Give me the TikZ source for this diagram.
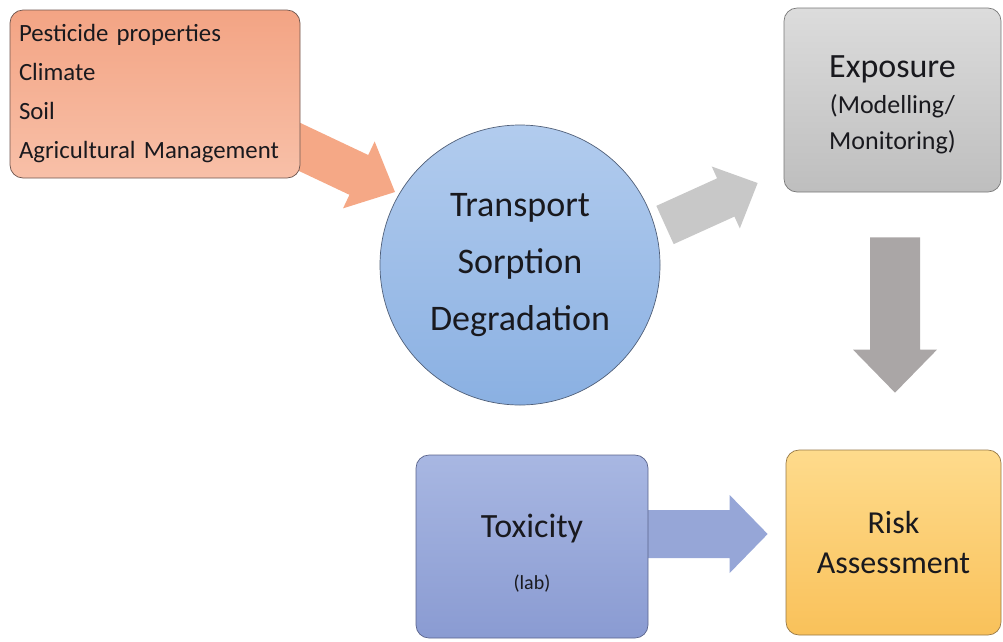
\documentclass[tikz,border=0pt]{standalone}
\usepackage{fontspec}
\setmainfont{Carlito}
\usetikzlibrary{calc,backgrounds}

\definecolor{txt}{RGB}{25,25,30}
\definecolor{factop}{RGB}{243,164,132}
\definecolor{facbot}{RGB}{248,192,168}
\definecolor{facline}{RGB}{110,85,78}
\definecolor{proctop}{RGB}{178,204,238}
\definecolor{procbot}{RGB}{138,176,226}
\definecolor{procline}{RGB}{80,95,120}
\definecolor{expotop}{RGB}{220,220,220}
\definecolor{expobot}{RGB}{190,190,190}
\definecolor{expoline}{RGB}{120,120,120}
\definecolor{toxtop}{RGB}{168,183,226}
\definecolor{toxbot}{RGB}{138,155,210}
\definecolor{toxline}{RGB}{90,100,140}
\definecolor{risktop}{RGB}{254,219,140}
\definecolor{riskbot}{RGB}{249,193,90}
\definecolor{riskline}{RGB}{150,120,70}
\definecolor{salmonarrow}{RGB}{245,168,134}
\definecolor{grayarrow}{RGB}{200,200,200}
\definecolor{downarrow}{RGB}{170,166,166}
\definecolor{bluearrow}{RGB}{150,166,215}

% block arrow: tail, tip, shaft half width, head half width, head length, colour
\newcommand{\blockarrow}[6]{%
  \coordinate (ba-b) at ($(#2)!#5!(#1)$);
  \fill[#6] ($(#1)!#3!90:(#2)$) -- ($(ba-b)!#3!90:(#2)$) -- ($(ba-b)!#4!90:(#2)$)
    -- (#2) -- ($(ba-b)!#4!-90:(#2)$) -- ($(ba-b)!#3!-90:(#2)$)
    -- ($(#1)!#3!-90:(#2)$) -- cycle;
}

\begin{document}
\begin{tikzpicture}[x=1pt,y=-1pt,
    box/.style={rectangle, rounded corners=13pt, line width=0.7pt, inner sep=0pt, align=center, text=txt}]

    \useasboundingbox (0,0) rectangle (1003,641);

    % Draw the boxes
    \node[box, draw=facline, top color=factop, bottom color=facbot, minimum width=290pt, minimum height=168pt,
        text width=272pt, align=left, font=\fontsize{24.8}{39}\selectfont] (factors) at (155,94)
        {Pesticide properties\\Climate\\Soil\\Agricultural Management};
    \node[circle, draw=procline, line width=0.7pt, top color=proctop, bottom color=procbot, minimum size=280pt,
        inner sep=0pt, align=center, text=txt, font=\fontsize{36}{57}\selectfont] (proc) at (520,265)
        {Transport\\Sorption\\Degradation};
    \node[box, draw=expoline, top color=expotop, bottom color=expobot, minimum width=217pt, minimum height=184pt,
        font=\fontsize{26}{36}\selectfont] (expo) at (892.5,100)
        {{\fontsize{34}{34}\selectfont\rule{0pt}{31pt}Exposure}\\(Modelling/\\Monitoring)};
    \node[box, draw=toxline, top color=toxtop, bottom color=toxbot, minimum width=232pt, minimum height=183pt,
        font=\fontsize{34}{40}\selectfont] (tox) at (532,546.5)
        {\rule{0pt}{36pt}Toxicity\\[12pt]{\fontsize{20}{20}\selectfont (lab)}};
    \node[box, draw=riskline, top color=risktop, bottom color=riskbot, minimum width=215pt, minimum height=185pt,
        font=\fontsize{32}{40}\selectfont] (risk) at (893.5,542.5)
        {Risk\\Assessment};

    % Draw the arrows
    \coordinate (in1) at ($(factors.east)+(-45,32)$);
    \coordinate (in2) at ($(proc.center)+(-125,-73)$);
    \coordinate (out1) at ($(proc.center)+(145,-40)$);
    \coordinate (out2) at ($(expo.west)+(-26,83)$);
    \coordinate (down1) at ($(expo.south)+(2.5,45)$);
    \coordinate (down2) at ($(risk.north)+(1.5,-57)$);
    \coordinate (tox1) at ($(tox.east)+(-8,-12.5)$);
    \coordinate (tox2) at ($(risk.west)+(-18,-8.5)$);
    \begin{scope}[on background layer]
        \blockarrow{in1}{in2}{22pt}{37pt}{40pt}{salmonarrow}
        \blockarrow{out1}{out2}{21pt}{34pt}{35pt}{grayarrow}
        \blockarrow{down1}{down2}{25pt}{42pt}{43pt}{downarrow}
        \blockarrow{tox1}{tox2}{24pt}{39pt}{38pt}{bluearrow}
    \end{scope}
\end{tikzpicture}
\end{document}
